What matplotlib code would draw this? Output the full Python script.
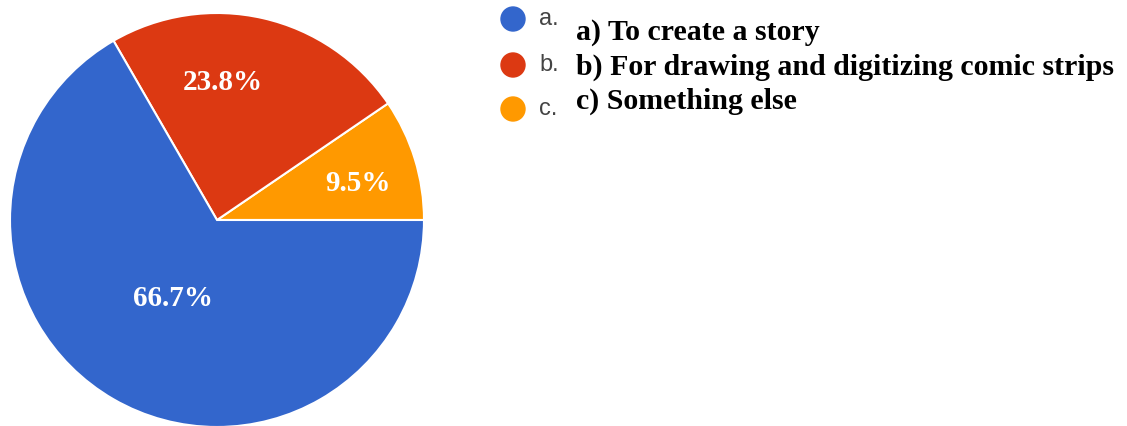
import matplotlib
matplotlib.use("Agg")
import matplotlib.pyplot as plt
from matplotlib.patches import Circle

# Survey responses (counts out of 21)
categories = ["a) To create a story",
              "b) For drawing and digitizing comic strips",
              "c) Something else"]
letters = ["a.", "b.", "c."]
counts = [14, 5, 2]
colors = ["#3366cc", "#dc3912", "#ff9900"]

W, H = 1127, 427
fig = plt.figure(figsize=(W / 100, H / 100), dpi=100)
ax = fig.add_axes([0, 0, 1, 1])

# Pie drawn counter-clockwise from 3 o'clock, smallest slice first
order = [2, 1, 0]
vals = [counts[i] for i in order]
cols = [colors[i] for i in order]
cx, cy, r = 217, H - 221, 207
wedges, _ = ax.pie(vals, colors=cols, startangle=0, counterclock=True,
                   center=(cx, cy), radius=r, frame=True,
                   wedgeprops=dict(edgecolor="white", linewidth=1.5))
for w in wedges:
    w.set_clip_on(False)
ax.set_xlim(0, W)
ax.set_ylim(0, H)
ax.set_aspect("equal")
ax.axis("off")

# Percentage labels inside the slices
label_pos = {0: (173, H - 298), 1: (223, H - 83), 2: (358, H - 184)}
total = sum(counts)
for i, c in enumerate(counts):
    x, y = label_pos[i]
    ax.text(x, y, f"{100 * c / total:.1f}%", color="white",
            fontsize=21, fontweight="bold", family="Liberation Serif",
            ha="center", va="center")

# Legend
marker_y = [H - 20, H - 66, H - 110]
text_y = [H - 33, H - 67, H - 101]
for i in range(len(categories)):
    ax.add_patch(Circle((513, marker_y[i]), 12, color=colors[i], clip_on=False))
    ax.text(539, marker_y[i] + 1, letters[i], color="#444444", fontsize=17,
            family="Liberation Sans", ha="left", va="center")
    ax.text(576, text_y[i], categories[i], color="black", fontsize=21.5,
            fontweight="bold", family="Liberation Serif",
            ha="left", va="center")

fig.savefig("out.png", dpi=100, facecolor="white")
